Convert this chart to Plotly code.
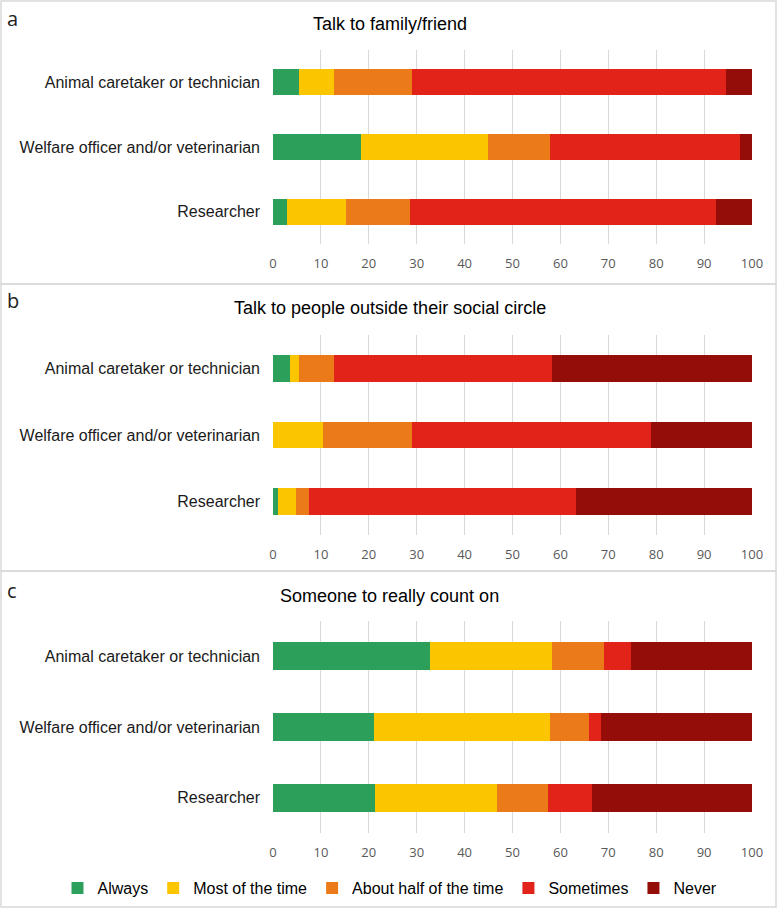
import plotly.graph_objects as go

# groups, top to bottom
groups = ["Animal caretaker or technician", "Welfare officer and/or veterinarian", "Researcher"]
answers = ["Always", "Most of the time", "About half of the time", "Sometimes", "Never"]
colours = ["#2ca05a", "#fbc500", "#eb7b19", "#e2231a", "#950d09"]

panel_titles = ["Talk to family/friend", "Talk to people outside their social circle", "Someone to really count on"]
panel_letters = ["a", "b", "c"]

# percentages, one list per answer (values for groups in order above)
a_always    = [5.4, 18.3, 3.0]
a_most      = [7.3, 26.5, 12.2]
a_half      = [16.4, 13.1, 13.4]
a_sometimes = [65.5, 39.5, 63.9]
a_never     = [5.4, 2.6, 7.5]

b_always    = [3.6, 0.0, 1.1]
b_most      = [1.8, 10.5, 3.8]
b_half      = [7.3, 18.5, 2.7]
b_sometimes = [45.5, 50.0, 55.6]
b_never     = [41.8, 21.0, 36.8]

c_always    = [32.7, 21.0, 21.2]
c_most      = [25.5, 36.9, 25.5]
c_half      = [10.9, 8.0, 10.7]
c_sometimes = [5.6, 2.6, 9.2]
c_never     = [25.3, 31.5, 33.4]

panels = [
    [a_always, a_most, a_half, a_sometimes, a_never],
    [b_always, b_most, b_half, b_sometimes, b_never],
    [c_always, c_most, c_half, c_sometimes, c_never],
]

W, H = 778, 910
def py(px):
    return 1 - px / H

# plot areas in pixels (top, bottom) and panel boxes
plot_rows = [(50, 244), (335, 535), (621, 833)]
boxes = [(1, 284), (284, 571), (571, 907)]
title_y = [24, 308, 596]
letter_y = [18, 301, 590]
x_dom = [273 / W, 752 / W]

fig = go.Figure()

for p, vals in enumerate(panels):
    ax = "" if p == 0 else str(p + 1)
    for k, name in enumerate(answers):
        fig.add_trace(go.Bar(
            x=vals[k], y=groups, orientation="h", name=name,
            marker=dict(color=colours[k], line=dict(width=0)),
            width=0.4, showlegend=(p == 0),
            xaxis="x" + ax, yaxis="y" + ax,
        ))
    top, bot = plot_rows[p]
    fig.layout["xaxis" + ax] = dict(
        domain=x_dom, anchor="y" + ax, range=[0, 100], dtick=10,
        showgrid=True, gridcolor="#d9d9d9", gridwidth=1.3,
        zeroline=False, showline=False, ticks="", automargin=False,
        tickfont=dict(family="Open Sans", size=13, color="#595959"),
        ticklabelstandoff=10, fixedrange=True,
    )
    fig.layout["yaxis" + ax] = dict(
        domain=[py(bot), py(top)], anchor="x" + ax, type="category",
        range=[2.5, -0.5], showgrid=False, zeroline=False, showline=False,
        ticks="", automargin=False,
        tickfont=dict(family="Liberation Sans, Arial", size=16, color="#1a1a1a"),
        ticklabelstandoff=12, fixedrange=True,
    )
    b0, b1 = boxes[p]
    fig.add_shape(type="rect", xref="paper", yref="paper",
                  x0=1 / W, x1=776 / W, y0=py(b1), y1=py(b0),
                  line=dict(color="#d9d9d9", width=1.5), layer="below")
    fig.add_annotation(text=panel_titles[p], xref="paper", yref="paper",
                       x=390 / W, y=py(title_y[p]), showarrow=False,
                       xanchor="center", yanchor="middle",
                       font=dict(family="Liberation Sans, Arial", size=18, color="#000000"))
    fig.add_annotation(text=panel_letters[p], xref="paper", yref="paper",
                       x=5 / W, y=py(letter_y[p]), showarrow=False,
                       xanchor="left", yanchor="middle",
                       font=dict(family="Open Sans", size=20, color="#222222"))

fig.update_layout(
    width=W, height=H, autosize=False, barmode="stack",
    margin=dict(l=0, r=0, t=0, b=0, autoexpand=False),
    paper_bgcolor="white", plot_bgcolor="white",
    legend=dict(orientation="h", x=390 / W, xanchor="center",
                y=py(888), yanchor="middle", traceorder="normal",
                font=dict(family="Liberation Sans, Arial", size=16, color="#000000"),
                itemwidth=30, bgcolor="rgba(0,0,0,0)"),
)

# page body has a default 8px margin, drop it so the figure fills the window
fig.write_html("out.html",
               config={"displayModeBar": False, "responsive": False},
               post_script="document.body.style.margin='0';document.body.style.overflow='hidden';")
